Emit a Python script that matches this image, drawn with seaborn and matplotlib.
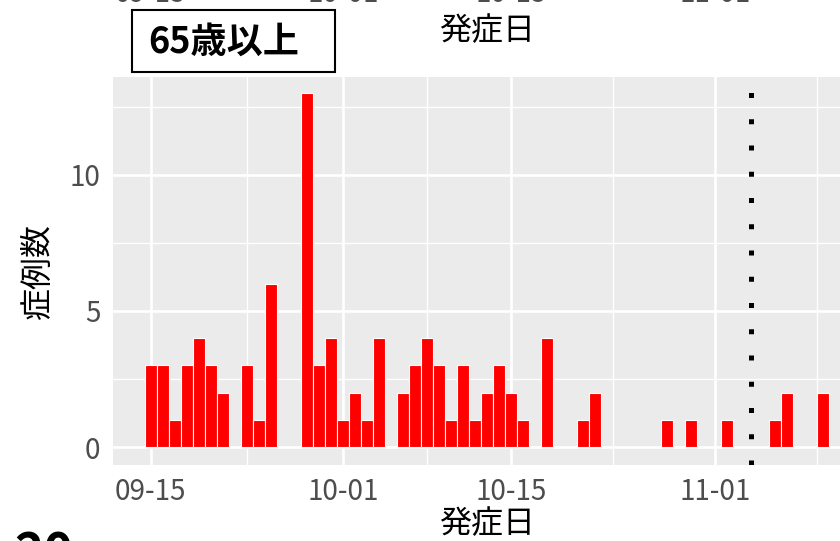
import matplotlib
matplotlib.use("Agg")
import matplotlib.pyplot as plt
import matplotlib.dates as mdates
from matplotlib.patches import Rectangle
import pandas as pd
import seaborn as sns

# ---------------- data ----------------
YEAR = 2020
onset_dates = ["09-15", "09-16", "09-17", "09-18", "09-19", "09-20", "09-21",
               "09-23", "09-24", "09-25", "09-28", "09-29", "09-30",
               "10-01", "10-02", "10-03", "10-04", "10-06", "10-07", "10-08",
               "10-09", "10-10", "10-11", "10-12", "10-13", "10-14", "10-15",
               "10-16", "10-18", "10-21", "10-22", "10-28", "10-30",
               "11-02", "11-06", "11-07", "11-10"]
case_counts = [3, 3, 1, 3, 4, 3, 2,
               3, 1, 6, 13, 3, 4,
               1, 2, 1, 4, 2, 3, 4,
               3, 1, 3, 1, 2, 3, 2,
               1, 4, 1, 2, 1, 1,
               1, 1, 2, 2]
tick_dates = ["09-15", "10-01", "10-15", "11-01"]
y_ticks = [0, 5, 10]
vline_date = "11-04"
panel_label = "65歳以上"
x_title = "発症日"
y_title = "症例数"
next_panel_text = "20"

# ---------------- style ----------------
sns.set_theme(style="darkgrid")
plt.rcParams["font.family"] = ["Noto Sans CJK JP", "DejaVu Sans"]

def to_num(md):
    return mdates.date2num(pd.Timestamp(f"{YEAR}-{md}"))

df = pd.DataFrame({"date": [to_num(d) for d in onset_dates], "count": case_counts})

W, H = 840, 541
fig = plt.figure(figsize=(W / 100, H / 100), dpi=100)
fig.patch.set_facecolor("white")
ax = fig.add_axes([113 / W, 76 / H, 727 / W, 388 / H])
ax.set_facecolor("#EBEBEB")

sns.barplot(data=df, x="date", y="count", native_scale=True, width=1.0,
            color="#FF0000", saturation=1, edgecolor="white", linewidth=0.8,
            errorbar=None, ax=ax)

day0 = to_num(tick_dates[0])
ax.set_xlim(day0 - 3.14, day0 + 57.44)
ax.set_ylim(-0.66, 13.6)

major = [to_num(d) for d in tick_dates]
minor = [(a + b) / 2 for a, b in zip(major[:-1], major[1:])]
minor.append(major[-1] + (major[-1] - major[-2]) / 2)
ax.set_xticks(major)
ax.set_xticklabels(tick_dates)
ax.set_xticks(minor, minor=True)
ax.set_yticks(y_ticks)
ax.set_yticklabels([str(v) for v in y_ticks])
ax.set_yticks([2.5, 7.5, 12.5], minor=True)

ax.grid(which="major", color="white", linewidth=1.9)
ax.grid(which="minor", color="white", linewidth=1.0)
ax.set_axisbelow(True)
for s in ax.spines.values():
    s.set_visible(False)

ax.tick_params(which="major", length=5, width=1.1, color="#333333",
               labelsize=20, labelcolor="#4D4D4D", pad=4)
ax.tick_params(which="minor", length=0)

ax.axvline(to_num(vline_date), color="black", linewidth=3.6,
           linestyle=(0, (1, 4.25)), dash_capstyle="butt")

ax.set_xlabel(x_title, fontsize=23, color="black")
ax.xaxis.label.set_va("center")
ax.xaxis.set_label_coords((487 - 113) / 727, (465 - 524) / 388)
ax.set_ylabel(y_title, fontsize=23, color="black")
ax.yaxis.set_label_coords((54 - 113) / 727, 0.5)

# remnants of the panel above (cropped)
for d in tick_dates:
    xp = 150.7 + (to_num(d) - day0) * 12
    fig.text(xp / W, 1 - 2 / H, d, ha="center", va="baseline", fontsize=20,
             color="#4D4D4D")
fig.text(487 / W, 1 - 31 / H, x_title, ha="center", va="center", fontsize=23,
         color="black")

# panel label box
fig.add_artist(Rectangle((132 / W, 1 - 72 / H), 203 / W, 62 / H,
                         transform=fig.transFigure, facecolor="white",
                         edgecolor="black", linewidth=1.5))
fig.text(148 / W, 1 - 42 / H, panel_label, ha="left", va="center",
         fontsize=26, fontweight="bold", color="black")

# start of the next panel label (cropped)
fig.text(14 / W, 1 - 530 / H, next_panel_text, ha="left", va="top",
         fontsize=36, fontweight="bold", color="black")

fig.savefig("out.png", dpi=100)
